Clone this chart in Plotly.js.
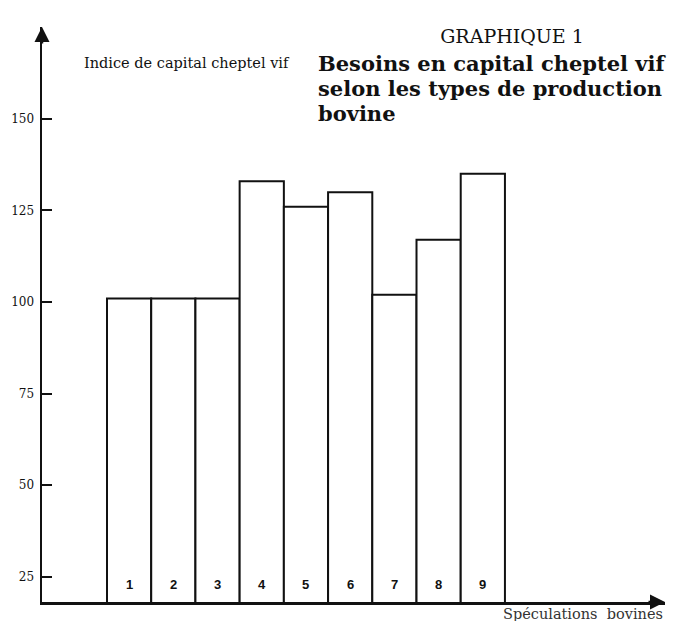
<!DOCTYPE html>
<html>
<head>
<meta charset="utf-8">
<script src="https://cdn.plot.ly/plotly-3.0.1.min.js"></script>
<style>
html,body{margin:0;padding:0;background:#fff;}
#chart{width:674px;height:621px;}
</style>
</head>
<body>
<div id="chart"></div>
<script>
// Data
const speculations = [1, 2, 3, 4, 5, 6, 7, 8, 9];
const speculationLabels = ['1', '2', '3', '4', '5', '6', '7', '8', '9'];
const indiceCapital = [101, 101, 101, 133, 126, 130, 102, 117, 135];
const yTickValues = [25, 50, 75, 100, 125, 150];
const yTickLabels = ['25', '50', '75', '100', '125', '150'];

const titleText = 'GRAPHIQUE 1';
const subtitleLines = ['Besoins en capital cheptel vif', 'selon les types de production', 'bovine'];
const yAxisLabel = 'Indice de capital cheptel vif';
const xAxisLabel = 'Spéculations  bovines';

const serif = '"DejaVu Serif", "Liberation Serif", serif';
const sans = '"Liberation Sans", Arial, sans-serif';

const trace = {
  type: 'bar',
  x: speculations,
  y: indiceCapital,
  width: 1,
  marker: {color: '#ffffff', line: {color: '#111111', width: 2}},
  hoverinfo: 'skip'
};

const annotations = [];
speculations.forEach((s, i) => {
  annotations.push({
    x: s, xref: 'x', y: 0.03, yref: 'paper',
    text: '<b>' + speculationLabels[i] + '</b>', showarrow: false,
    font: {family: sans, size: 13, color: '#111'},
    xanchor: 'center', yanchor: 'middle'
  });
});
const subY = [0.9357, 0.8922, 0.8487];
subtitleLines.forEach((t, i) => {
  annotations.push({
    x: 0.44, xref: 'paper', y: subY[i], yref: 'paper',
    text: '<b>' + t + '</b>',
    align: 'left', showarrow: false, xanchor: 'left', yanchor: 'middle',
    font: {family: serif, size: 21, color: '#111'}
  });
});
annotations.push({
  x: 0.064, xref: 'paper', y: 0.937, yref: 'paper',
  text: yAxisLabel, showarrow: false, xanchor: 'left', yanchor: 'middle',
  font: {family: serif, size: 14.5, color: '#111'}
});
annotations.push({
  x: 1, xref: 'paper', y: -0.021, yref: 'paper',
  text: xAxisLabel, showarrow: false, xanchor: 'right', yanchor: 'middle',
  font: {family: serif, size: 14.5, color: '#333'}
});
// axis arrowheads
annotations.push({
  x: 1, xref: 'paper', y: 0, yref: 'paper', ax: -18, ay: 0,
  text: '', showarrow: true, arrowhead: 2, arrowsize: 1.2, arrowwidth: 2.5, arrowcolor: '#111'
});
annotations.push({
  x: 0, xref: 'paper', y: 1, yref: 'paper', ax: 0, ay: 18,
  text: '', showarrow: true, arrowhead: 2, arrowsize: 1.2, arrowwidth: 2.5, arrowcolor: '#111'
});

const layout = {
  width: 674, height: 621,
  margin: {l: 42, r: 9, t: 27, b: 19},
  paper_bgcolor: '#ffffff', plot_bgcolor: '#ffffff',
  showlegend: false,
  bargap: 0,
  title: {
    text: titleText, x: 512 / 674, xref: 'container', xanchor: 'center',
    y: 1 - 36 / 621, yref: 'container', yanchor: 'middle',
    font: {family: serif, size: 19, color: '#111'}
  },
  xaxis: {
    range: [-0.97, 13.12], showgrid: false, zeroline: false,
    showticklabels: false, ticks: '',
    showline: true, linecolor: '#111', linewidth: 2.5
  },
  yaxis: {
    range: [18.1, 175.1], showgrid: false, zeroline: false,
    tickvals: yTickValues, ticktext: yTickLabels,
    ticks: 'inside', ticklen: 10, tickwidth: 2, tickcolor: '#111',
    ticklabelstandoff: 3,
    tickfont: {family: serif, size: 12, color: '#111'},
    showline: true, linecolor: '#111', linewidth: 2.5
  },
  annotations: annotations
};

Plotly.newPlot('chart', [trace], layout, {displayModeBar: false, staticPlot: true});
</script>
</body>
</html>
